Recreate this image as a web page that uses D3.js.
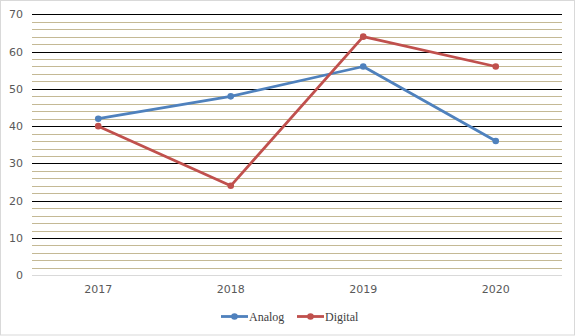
<!DOCTYPE html>
<html>
<head>
<meta charset="utf-8">
<script src="https://cdn.jsdelivr.net/npm/d3@7"></script>
<style>
  html, body { margin: 0; padding: 0; background: #fff; }
  svg { display: block; }
</style>
</head>
<body>
<svg id="chart" width="576" height="336"></svg>
<script>
// Chart data
const years = ["2017", "2018", "2019", "2020"];
const analog = [42, 48, 56, 36];
const digital = [40, 24, 64, 56];
const yTicks = [0, 10, 20, 30, 40, 50, 60, 70];
const seriesNames = ["Analog", "Digital"];
const seriesColors = ["#4F81BD", "#C0504D"];

const W = 576, H = 336;
const plot = { left: 32, right: 562, top: 14.3, bottom: 275.3 };

const svg = d3.select("#chart");

// outer border
svg.append("rect")
  .attr("x", 0.5).attr("y", 0.5)
  .attr("width", W - 2).attr("height", H - 1.5)
  .attr("fill", "#fff").attr("stroke", "#d9d9d9").attr("stroke-width", 1);

const x = d3.scaleBand().domain(years).range([plot.left, plot.right]);
const y = d3.scaleLinear().domain([0, 70]).range([plot.bottom, plot.top]);

// minor gridlines every 2 units
const minor = d3.range(2, 70, 2).filter(v => v % 10 !== 0);
svg.append("g").selectAll("line").data(minor).join("line")
  .attr("x1", plot.left).attr("x2", plot.right)
  .attr("y1", d => Math.round(y(d)) + 0.5).attr("y2", d => Math.round(y(d)) + 0.5)
  .attr("stroke", "#c4b995").attr("stroke-width", 1);

// major gridlines
svg.append("g").selectAll("line").data(yTicks.filter(v => v > 0)).join("line")
  .attr("x1", plot.left).attr("x2", plot.right)
  .attr("y1", d => Math.round(y(d)) + 0.5).attr("y2", d => Math.round(y(d)) + 0.5)
  .attr("stroke", "#000").attr("stroke-width", 1);

// baseline
svg.append("line")
  .attr("x1", plot.left).attr("x2", plot.right)
  .attr("y1", Math.round(y(0)) + 0.5).attr("y2", Math.round(y(0)) + 0.5)
  .attr("stroke", "#d9d9d9").attr("stroke-width", 1);

// y axis labels
const yAxis = d3.axisLeft(y).tickValues(yTicks).tickSize(0).tickPadding(0);
const gy = svg.append("g").attr("transform", `translate(${plot.left - 9},0)`).call(yAxis);
gy.select(".domain").remove();
gy.selectAll("text")
  .attr("fill", "#595959")
  .style("font-family", "'DejaVu Sans', sans-serif")
  .style("font-size", "11px");

// x axis labels
const xAxis = d3.axisBottom(x).tickSize(0).tickPadding(0);
const gx = svg.append("g").attr("transform", `translate(0,${plot.bottom + 10})`).call(xAxis);
gx.select(".domain").remove();
gx.selectAll("text")
  .attr("fill", "#595959")
  .style("font-family", "'DejaVu Sans', sans-serif")
  .style("font-size", "11px");

// series lines and markers
const seriesData = [analog, digital];
const line = d3.line()
  .x((d, i) => x(years[i]) + x.bandwidth() / 2)
  .y(d => y(d));

seriesData.forEach((vals, s) => {
  svg.append("path")
    .datum(vals)
    .attr("d", line)
    .attr("fill", "none")
    .attr("stroke", seriesColors[s])
    .attr("stroke-width", 2.8)
    .attr("stroke-linejoin", "round")
    .attr("stroke-linecap", "round");
  svg.append("g").selectAll("circle").data(vals).join("circle")
    .attr("cx", (d, i) => x(years[i]) + x.bandwidth() / 2)
    .attr("cy", d => y(d))
    .attr("r", 3.3)
    .attr("fill", seriesColors[s]);
});

// legend
const legendX = [221, 297];
const legendY = 316.5;
seriesNames.forEach((name, s) => {
  const g = svg.append("g").attr("transform", `translate(${legendX[s]},${legendY})`);
  g.append("line").attr("x1", 0).attr("x2", 27).attr("y1", 0).attr("y2", 0)
    .attr("stroke", seriesColors[s]).attr("stroke-width", 2.8);
  g.append("circle").attr("cx", 13.5).attr("cy", 0).attr("r", 3.3).attr("fill", seriesColors[s]);
  g.append("text").attr("x", 28).attr("y", 4)
    .attr("fill", "#404040")
    .style("font-family", "'Liberation Serif', serif")
    .style("font-size", "12px")
    .text(name);
});
</script>
</body>
</html>
